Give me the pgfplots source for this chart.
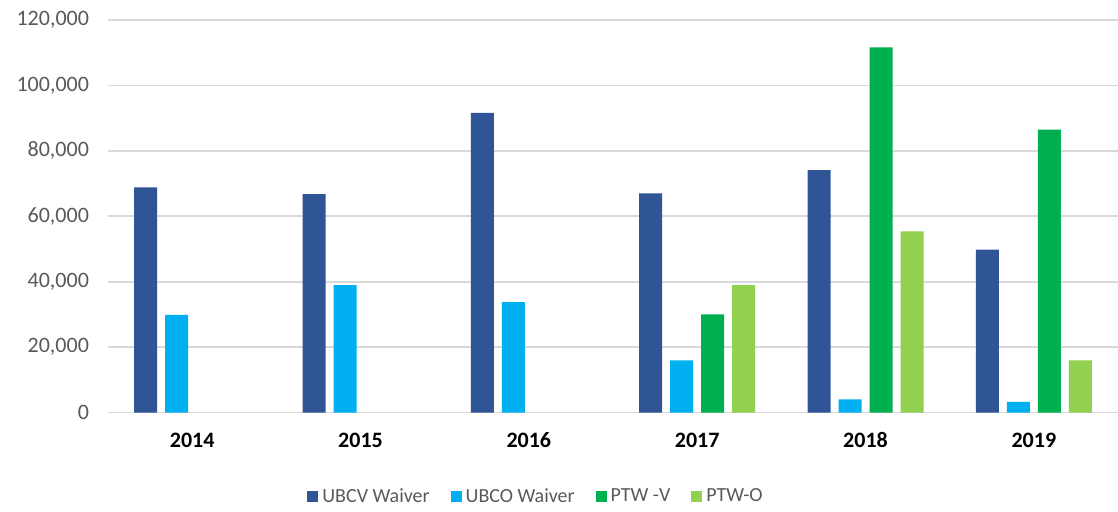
\documentclass[border=0pt]{standalone}
\usepackage{pgfplots}
\pgfplotsset{compat=1.18}
\usepackage{fontspec}
\setmainfont{Carlito}
\definecolor{ubcv}{HTML}{2F5597}
\definecolor{ubco}{HTML}{00B0F0}
\definecolor{ptwv}{HTML}{00B050}
\definecolor{ptwo}{HTML}{92D050}
\definecolor{gridgray}{HTML}{D9D9D9}
\definecolor{labgray}{HTML}{595959}
\begin{document}
\begin{tikzpicture}
\useasboundingbox (0,0) rectangle (559pt,256pt);
\begin{axis}[
  at={(54pt,49.65pt)}, anchor=south west,
  scale only axis, width=505pt, height=196.4pt,
  xmin=-0.5, xmax=5.5, ymin=0, ymax=120000,
  ybar=4pt, bar width=11.5pt,
  xtick={0,1,2,3,4,5}, xticklabels={2014,2015,2016,2017,2018,2019},
  ytick={0,20000,40000,60000,80000,100000,120000},
  scaled y ticks=false,
  ymajorgrids, major grid style={draw=gridgray, line width=0.8pt},
  axis line style={draw=none}, major tick length=0pt,
  tick label style={font=\fontsize{11}{13}\selectfont, text=labgray},
  yticklabel style={xshift=-6pt, /pgf/number format/fixed, /pgf/number format/1000 sep={,}, /pgf/number format/assume math mode=true},
  xticklabel style={font=\fontsize{11}{13}\selectfont\bfseries, text=black, yshift=-6.5pt},
  legend columns=4,
  legend style={draw=none, fill=none, at={(0.4248,-0.2146)}, anchor=center,
    font=\fontsize{10}{12}\selectfont, text=labgray,
    /tikz/every even column/.append style={column sep=8.5pt}},
  legend image code/.code={\fill[#1] (0pt,-2.75pt) rectangle (5.5pt,2.75pt);},
]
\addplot[fill=ubcv, draw=none] coordinates {(0,68800) (1,66800) (2,91600) (3,67000) (4,74100) (5,49800)};
\addplot[fill=ubco, draw=none] coordinates {(0,29900) (1,39000) (2,33800) (3,16000) (4,4100) (5,3300)};
\addplot[fill=ptwv, draw=none] coordinates {(3,30000) (4,111600) (5,86500)};
\addplot[fill=ptwo, draw=none] coordinates {(3,39000) (4,55400) (5,16000)};
\legend{UBCV Waiver, UBCO Waiver, PTW -V, PTW-O}
\end{axis}
\end{tikzpicture}
\end{document}
